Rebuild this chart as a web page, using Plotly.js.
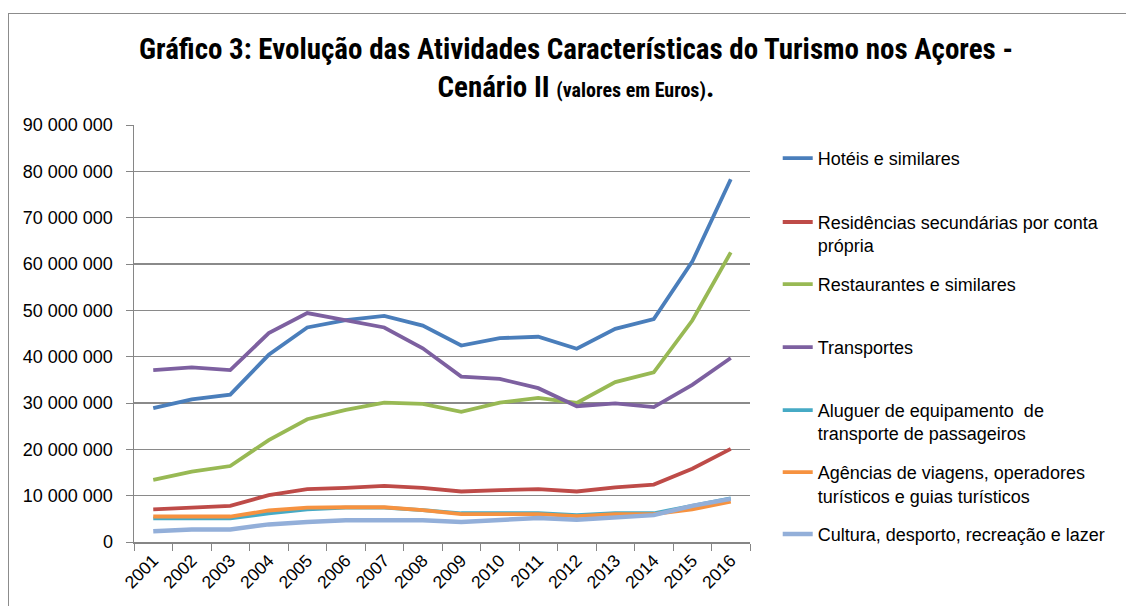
<!DOCTYPE html>
<html>
<head>
<meta charset="utf-8">
<script src="https://cdn.plot.ly/plotly-3.0.1.min.js"></script>
<style>
  html, body { margin: 0; padding: 0; background: #fff; }
  #wrap { position: relative; width: 1126px; height: 606px; overflow: hidden; }
  #chart { position: absolute; left: 0; top: 0; width: 1126px; height: 606px; }
  #frame { position: absolute; left: 8px; top: 13px; width: 1130px; height: 610px;
           border-left: 1.5px solid #8c8c8c; border-top: 1.5px solid #8c8c8c; pointer-events: none; }
</style>
</head>
<body>
<div id="wrap">
  <div id="chart"></div>
  <div id="frame"></div>
</div>
<script>
const years = ["2001","2002","2003","2004","2005","2006","2007","2008","2009","2010","2011","2012","2013","2014","2015","2016"];

const hoteis       = [28.9e6, 30.8e6, 31.8e6, 40.4e6, 46.3e6, 47.9e6, 48.8e6, 46.7e6, 42.4e6, 44.0e6, 44.3e6, 41.7e6, 46.0e6, 48.1e6, 60.5e6, 78.3e6];
const residencias  = [7.05e6, 7.5e6, 7.8e6, 10.1e6, 11.4e6, 11.7e6, 12.1e6, 11.7e6, 10.9e6, 11.2e6, 11.4e6, 10.9e6, 11.8e6, 12.4e6, 15.8e6, 20.1e6];
const restaurantes = [13.4e6, 15.2e6, 16.4e6, 22.0e6, 26.5e6, 28.5e6, 30.1e6, 29.8e6, 28.1e6, 30.1e6, 31.1e6, 30.0e6, 34.5e6, 36.6e6, 47.8e6, 62.5e6];
const transportes  = [37.1e6, 37.7e6, 37.1e6, 45.1e6, 49.4e6, 47.9e6, 46.3e6, 41.8e6, 35.7e6, 35.2e6, 33.2e6, 29.3e6, 29.9e6, 29.1e6, 33.9e6, 39.7e6];
const aluguer      = [5.1e6, 5.1e6, 5.1e6, 6.2e6, 7.05e6, 7.4e6, 7.4e6, 6.9e6, 6.2e6, 6.2e6, 6.2e6, 5.8e6, 6.2e6, 6.2e6, 7.8e6, 9.4e6];
const agencias     = [5.5e6, 5.5e6, 5.5e6, 6.8e6, 7.4e6, 7.5e6, 7.5e6, 6.9e6, 6.0e6, 6.0e6, 6.0e6, 5.6e6, 6.0e6, 6.0e6, 7.05e6, 8.7e6];
const cultura      = [2.3e6, 2.7e6, 2.7e6, 3.8e6, 4.3e6, 4.7e6, 4.7e6, 4.7e6, 4.3e6, 4.8e6, 5.2e6, 4.8e6, 5.4e6, 5.8e6, 7.8e6, 9.3e6];

const seriesNames = [
  "Hotéis e similares",
  "Residências secundárias por conta<br>própria",
  "Restaurantes e similares",
  "Transportes",
  "Aluguer de equipamento  de<br>transporte de passageiros",
  "Agências de viagens, operadores<br>turísticos e guias turísticos",
  "Cultura, desporto, recreação e lazer"
];
const yTickVals = [0, 10e6, 20e6, 30e6, 40e6, 50e6, 60e6, 70e6, 80e6, 90e6];
const yTickText = ["0", "10 000 000", "20 000 000", "30 000 000", "40 000 000", "50 000 000", "60 000 000", "70 000 000", "80 000 000", "90 000 000"];

const seriesData = [hoteis, residencias, restaurantes, transportes, aluguer, agencias, cultura];
const colors = ["#4A7EBB", "#BE4B48", "#98B954", "#7D60A0", "#46AAC5", "#F69240", "#93AFD9"];
const legendY = [0.964, 0.811, 0.662, 0.511, 0.360, 0.211, 0.063];

const txtFont = "Liberation Sans, Arial, sans-serif";

const traces = seriesData.map((d, i) => ({
  type: "scatter",
  mode: "lines",
  x: years,
  y: d,
  name: seriesNames[i],
  line: { color: colors[i], width: i === 6 ? 4.5 : 3.8 },
  legend: i === 0 ? "legend" : "legend" + (i + 1),
  hoverinfo: "x+y+name"
}));

const layout = {
  width: 1126,
  height: 606,
  paper_bgcolor: "rgba(0,0,0,0)",
  plot_bgcolor: "rgba(0,0,0,0)",
  margin: { l: 134, r: 376, t: 125, b: 64 },
  showlegend: true,
  title: {
    text: "<b>Gráfico 3: Evolução das Atividades Características do Turismo nos Açores -<br>Cenário II <span style='font-size:20px'>(valores em Euros)</span>.</b>",
    font: { family: "Liberation Sans Narrow, Roboto Condensed, Arial Narrow, sans-serif", size: 29, color: "#000" },
    x: 0.5115, xref: "container", xanchor: "center",
    y: 0.902, yref: "container", yanchor: "top"
  },
  xaxis: {
    type: "category",
    tickangle: -45,
    tickson: "boundaries",
    ticks: "outside",
    ticklen: 7,
    tickcolor: "#868686",
    showline: true,
    linecolor: "#868686",
    linewidth: 1.5,
    showgrid: false,
    zeroline: false,
    tickfont: { family: txtFont, size: 17.5, color: "#000" },
    range: [-0.5, 15.5]
  },
  yaxis: {
    range: [0, 90e6],
    tickvals: yTickVals,
    ticktext: yTickText,
    ticks: "outside",
    ticklen: 7,
    tickcolor: "#868686",
    showline: true,
    linecolor: "#868686",
    linewidth: 1.5,
    showgrid: true,
    gridcolor: "#8a8a8a",
    gridwidth: 1.2,
    zeroline: false,
    tickfont: { family: txtFont, size: 18, color: "#000" },
    ticklabelstandoff: 9
  }
};

const legendBase = {
  x: 1.045, xanchor: "left", yanchor: "top",
  bgcolor: "rgba(0,0,0,0)",
  font: { family: txtFont, size: 18, color: "#000" },
  valign: "top",
  tracegroupgap: 0,
  itemclick: false
};
for (let i = 0; i < 7; i++) {
  const key = i === 0 ? "legend" : "legend" + (i + 1);
  layout[key] = Object.assign({}, legendBase, { y: legendY[i] });
}

Plotly.newPlot("chart", traces, layout, { displayModeBar: false, staticPlot: true });
</script>
</body>
</html>
